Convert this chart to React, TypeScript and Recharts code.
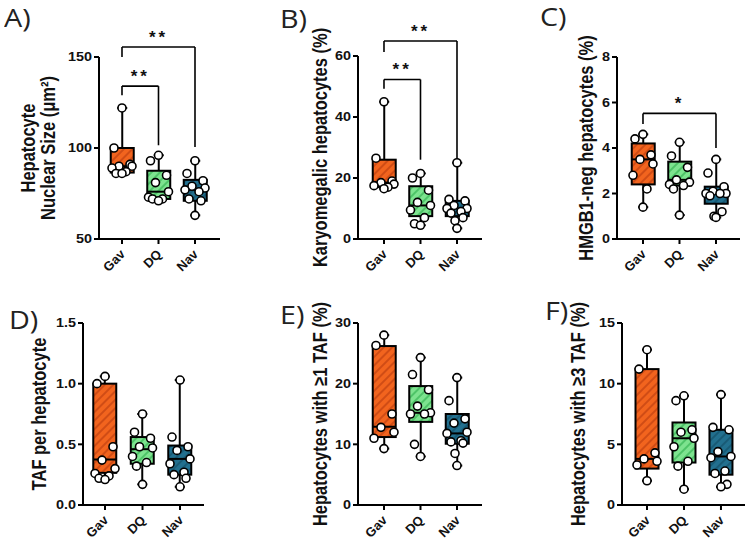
import { ComposedChart, Bar, Scatter, XAxis, YAxis, ReferenceLine } from 'recharts'

const groups = ['Gav', 'DQ', 'Nav']
const fills = ['#F2641E', '#7DE38F', '#22708F']
const stripes = ['#C84612', '#42BD5E', '#165570']

// box stats per group: [min, q1, median, q3, max]
const nuclearBoxes = [
  [86, 86.5, 90, 100, 122],
  [71, 72, 76, 87.5, 96],
  [63, 71, 77, 82.5, 93],
]
const nuclearPoints = [
  [122, 100, 91, 90, 90, 89, 87, 86, 86],
  [96, 93, 85, 81, 76, 73, 72, 72, 71],
  [93, 86, 82, 79, 78, 77, 76, 72, 71, 63],
]

const karyoBoxes = [
  [16.5, 17, 18.5, 26, 45],
  [4.5, 7.5, 11, 17.3, 21.5],
  [3.5, 7.5, 10, 12.5, 25],
]
const karyoPoints = [
  [45, 26.5, 19, 18.5, 18, 17.5, 17, 16.5],
  [21.5, 20, 16, 12, 11, 9.5, 7, 5, 4.5],
  [25, 13, 12.5, 11, 10, 10, 9, 8.5, 7, 6, 3.5],
]

const hmgbBoxes = [
  [1.4, 2.4, 3.5, 4.2, 4.6],
  [1.05, 2.35, 2.6, 3.4, 4.25],
  [0.95, 1.55, 2.0, 2.3, 3.5],
]
const hmgbPoints = [
  [4.6, 4.4, 3.7, 3.5, 3.3, 2.8, 2.2, 1.4],
  [4.25, 3.65, 3.15, 2.6, 2.5, 2.4, 2.35, 2.2, 1.05],
  [3.5, 2.9, 2.3, 2.1, 2.0, 2.0, 2.0, 1.9, 1.2, 1.0, 0.95],
]

const tafBoxes = [
  [0.21, 0.265, 0.375, 1.0, 1.06],
  [0.17, 0.34, 0.46, 0.56, 0.75],
  [0.15, 0.25, 0.38, 0.49, 1.03],
]
const tafPoints = [
  [1.06, 1.0, 0.48, 0.37, 0.3, 0.26, 0.24, 0.22, 0.21],
  [0.75, 0.6, 0.55, 0.48, 0.47, 0.4, 0.35, 0.32, 0.17],
  [1.03, 0.56, 0.48, 0.45, 0.38, 0.34, 0.27, 0.25, 0.22, 0.15],
]

const taf1Boxes = [
  [9.3, 11.2, 12.9, 26.2, 28],
  [8, 13.7, 15.2, 19.6, 24.3],
  [6.5, 10.1, 11.8, 15, 21],
]
const taf1Points = [
  [28, 26.3, 15, 12.8, 12, 11, 9.3],
  [24.3, 21.5, 19, 16.3, 15.2, 15, 15, 10, 8],
  [21, 17.2, 14.2, 13.5, 12, 11.8, 10.6, 10.4, 10.2, 8.5, 6.5],
]

const taf3Boxes = [
  [2.0, 3.0, 3.8, 11.2, 12.8],
  [1.3, 3.5, 5.5, 6.8, 9.0],
  [1.5, 2.5, 4.0, 6.2, 9.1],
]
const taf3Points = [
  [12.8, 11.2, 4.3, 3.8, 3.6, 3.3, 2.0],
  [9.0, 8.6, 6.2, 6.0, 5.5, 4.8, 3.6, 3.2, 1.3],
  [9.1, 6.4, 6.2, 4.4, 4.0, 3.9, 2.8, 2.6, 1.7, 1.5],
]

// significance brackets: groups a-b, top y, leg ends, stars
const nuclearBrackets = [
  { a: 1, b: 2, y: 134, ya: 129, yb: 101.5, text: '**' },
  { a: 1, b: 3, y: 155.5, ya: 150, yb: 100.5, text: '**' },
]
const karyoBrackets = [
  { a: 1, b: 2, y: 52.3, ya: 49.3, yb: 26, text: '**' },
  { a: 1, b: 3, y: 64.9, ya: 61.3, yb: 25.5, text: '**' },
]
const hmgbBrackets = [{ a: 1, b: 3, y: 5.52, ya: 5.05, yb: 4.0, text: '*' }]

const jitter = [0, -8, 8, -3, 10, -10, 4, -6, 6, -2, 2]
const font = 'Liberation Sans, Arial, sans-serif'

interface Bracket {
  a: number
  b: number
  y: number
  ya: number
  yb: number
  text: string
}

interface PanelProps {
  id: string
  letter: string
  letterX: number
  letterY: number
  left: number
  top: number
  width: number
  margin: { top: number; right: number; bottom: number; left: number }
  xDomain: [number, number]
  yDomain: [number, number]
  yTicks: number[]
  digits: number
  title: string[]
  titleX: number
  boxes: number[][]
  points: number[][]
  brackets?: Bracket[]
}

function BoxShape(props: any) {
  const { x, y, width, height, payload, id } = props
  const [min, q1, med, q3, max] = payload.stats
  const top = Math.min(y, y + height)
  const h = Math.abs(height)
  const k = h / (q3 - q1)
  const py = (v: number) => top + (q3 - v) * k
  const cx = x + width / 2
  const s = { stroke: '#000', strokeWidth: 2 }
  return (
    <g>
      <line x1={cx} x2={cx} y1={py(max)} y2={top} {...s} />
      <line x1={cx} x2={cx} y1={top + h} y2={py(min)} {...s} />
      <line x1={cx - 5} x2={cx + 5} y1={py(max)} y2={py(max)} {...s} />
      <line x1={cx - 5} x2={cx + 5} y1={py(min)} y2={py(min)} {...s} />
      <rect x={x} y={top} width={width} height={h} fill={`url(#${id}-h${payload.i})`} {...s} />
      <line x1={x} x2={x + width} y1={py(med)} y2={py(med)} {...s} />
    </g>
  )
}

function Dot(props: any) {
  const { cx, cy, payload } = props
  const off = payload.j === payload.n - 1 ? 0 : jitter[payload.j % jitter.length]
  return <circle cx={cx + off} cy={cy} r={4} fill="#fff" stroke="#000" strokeWidth={1.6} />
}

function renderXTick(props: any) {
  const { x, y, payload } = props
  const ax = x + 4
  const ay = y + 9
  return (
    <text
      x={ax}
      y={ay}
      textAnchor="end"
      transform={`rotate(-45 ${ax} ${ay})`}
      fontSize={13}
      fontWeight="bold"
      fontFamily={font}
      fill="#111"
    >
      {groups[Math.round(payload.value) - 1]}
    </text>
  )
}

function Panel({
  id,
  letter,
  letterX,
  letterY,
  left,
  top,
  width,
  margin,
  xDomain,
  yDomain,
  yTicks,
  digits,
  title,
  titleX,
  boxes,
  points,
  brackets = [],
}: PanelProps) {
  const height = 276
  const boxData = boxes.map((st, i) => ({ x: i + 1, i, stats: st, box: [st[1], st[3]] }))
  const dotData = points.flatMap((vals, i) =>
    vals.map((v, j) => ({ x: i + 1, y: v, j, n: vals.length }))
  )
  const plotMid = margin.top + (height - margin.top - margin.bottom - 30) / 2

  const renderYTick = (p: any) => (
    <g transform={`translate(${p.x},${p.y}) scale(1.2,1)`}>
      <text x={0} y={0} textAnchor="end" dy="0.36em" fontSize={12} fontWeight="bold" fontFamily={font} fill="#111">
        {Number(p.payload.value).toFixed(digits)}
      </text>
    </g>
  )

  const renderTitle = () => (
    <g transform={`translate(${titleX},${plotMid}) scale(1.2,1) rotate(-90)`}>
      {title.map((line, n) => (
        <text
          key={line}
          x={0}
          y={(n - title.length + 1) * 17}
          textAnchor="middle"
          fontSize={16.5}
          fontWeight="bold"
          fontFamily={font}
          fill="#111"
        >
          {line}
        </text>
      ))}
    </g>
  )

  return (
    <div style={{ position: 'absolute', left, top, width, height }}>
      <ComposedChart width={width} height={height} data={boxData} margin={margin}>
        <defs>
          {fills.map((f, i) => (
            <pattern
              key={f}
              id={`${id}-h${i}`}
              patternUnits="userSpaceOnUse"
              width={6}
              height={6}
              patternTransform="rotate(45)"
            >
              <rect width={6} height={6} fill={f} />
              <line x1={1} y1={0} x2={1} y2={6} stroke={stripes[i]} strokeWidth={1.6} />
            </pattern>
          ))}
        </defs>
        <XAxis
          type="number"
          dataKey="x"
          domain={xDomain}
          ticks={[1, 2, 3]}
          allowDataOverflow
          height={30}
          axisLine={{ stroke: '#000', strokeWidth: 2 }}
          tickLine={{ stroke: '#000', strokeWidth: 2 }}
          tickSize={5}
          tick={renderXTick}
        />
        <YAxis
          type="number"
          domain={yDomain}
          ticks={yTicks}
          allowDataOverflow
          width={40}
          axisLine={{ stroke: '#000', strokeWidth: 2 }}
          tickLine={{ stroke: '#000', strokeWidth: 2 }}
          tickSize={5}
          tick={renderYTick}
          label={renderTitle}
        />
        <Bar
          dataKey="box"
          barSize={23}
          isAnimationActive={false}
          shape={(p: any) => <BoxShape {...p} id={id} />}
        />
        <Scatter data={dotData} dataKey="y" isAnimationActive={false} shape={<Dot />} />
        {brackets.map((b, n) => [
          <ReferenceLine
            key={`l${n}`}
            segment={[{ x: b.a, y: b.ya }, { x: b.a, y: b.y }]}
            stroke="#000"
            strokeWidth={1.6}
            ifOverflow="visible"
          />,
          <ReferenceLine
            key={`t${n}`}
            segment={[{ x: b.a, y: b.y }, { x: b.b, y: b.y }]}
            stroke="#000"
            strokeWidth={1.6}
            ifOverflow="visible"
            label={{
              value: b.text,
              position: 'top',
              offset: 4,
              fill: '#111',
              fontSize: 17,
              fontWeight: 'bold',
              fontFamily: font,
              letterSpacing: 3,
            }}
          />,
          <ReferenceLine
            key={`r${n}`}
            segment={[{ x: b.b, y: b.y }, { x: b.b, y: b.yb }]}
            stroke="#000"
            strokeWidth={1.6}
            ifOverflow="visible"
          />,
        ])}
      </ComposedChart>
      <div
        style={{
          position: 'absolute',
          left: letterX,
          top: letterY,
          fontFamily: '"Open Sans", sans-serif',
          fontSize: 25,
          color: '#222',
          transform: 'scaleX(1.15)',
          transformOrigin: 'left top',
          lineHeight: 1.2,
        }}
      >
        {letter}
      </div>
    </div>
  )
}

export default function App() {
  return (
    <div
      style={{
        position: 'absolute',
        left: 0,
        top: 0,
        width: 749,
        height: 552,
        background: '#fff',
        overflow: 'hidden',
      }}
    >
      <Panel
        id="a"
        letter="A)"
        letterX={4}
        letterY={2}
        left={0}
        top={0}
        width={250}
        margin={{ top: 57, right: 30, bottom: 7, left: 59 }}
        xDomain={[0.37, 3.685]}
        yDomain={[50, 150]}
        yTicks={[50, 100, 150]}
        digits={0}
        title={['Hepatocyte', 'Nuclear Size (μm²)']}
        titleX={55}
        boxes={nuclearBoxes}
        points={nuclearPoints}
        brackets={nuclearBrackets}
      />
      <Panel
        id="b"
        letter="B)"
        letterX={30}
        letterY={3}
        left={250}
        top={0}
        width={250}
        margin={{ top: 56, right: 18, bottom: 7, left: 68 }}
        xDomain={[0.288, 3.685]}
        yDomain={[0, 60]}
        yTicks={[0, 20, 40, 60]}
        digits={0}
        title={['Karyomegalic hepatocytes (%)']}
        titleX={77}
        boxes={karyoBoxes}
        points={karyoPoints}
        brackets={karyoBrackets}
      />
      <Panel
        id="c"
        letter="C)"
        letterX={40}
        letterY={1}
        left={500}
        top={0}
        width={249}
        margin={{ top: 57, right: 9, bottom: 7, left: 77 }}
        xDomain={[0.288, 3.658]}
        yDomain={[0, 8]}
        yTicks={[0, 2, 4, 6, 8]}
        digits={0}
        title={['HMGB1-neg hepatocytes (%)']}
        titleX={93}
        boxes={hmgbBoxes}
        points={hmgbPoints}
        brackets={hmgbBrackets}
      />
      <Panel
        id="d"
        letter="D)"
        letterX={9}
        letterY={28}
        left={0}
        top={276}
        width={250}
        margin={{ top: 47, right: 46, bottom: 17, left: 43 }}
        xDomain={[0.413, 3.64]}
        yDomain={[0, 1.5]}
        yTicks={[0, 0.5, 1, 1.5]}
        digits={1}
        title={['TAF per hepatocyte']}
        titleX={46}
        boxes={tafBoxes}
        points={tafPoints}
      />
      <Panel
        id="e"
        letter="E)"
        letterX={30}
        letterY={23}
        left={250}
        top={276}
        width={250}
        margin={{ top: 47, right: 18, bottom: 17, left: 68 }}
        xDomain={[0.288, 3.685]}
        yDomain={[0, 30]}
        yTicks={[0, 10, 20, 30]}
        digits={0}
        title={['Hepatocytes with ≥1 TAF (%)']}
        titleX={77}
        boxes={taf1Boxes}
        points={taf1Points}
      />
      <Panel
        id="f"
        letter="F)"
        letterX={45}
        letterY={19}
        left={500}
        top={276}
        width={249}
        margin={{ top: 47, right: 4, bottom: 17, left: 82 }}
        xDomain={[0.324, 3.65]}
        yDomain={[0, 15]}
        yTicks={[0, 5, 10, 15]}
        digits={0}
        title={['Hepatocytes with ≥3 TAF (%)']}
        titleX={85}
        boxes={taf3Boxes}
        points={taf3Points}
      />
    </div>
  )
}
